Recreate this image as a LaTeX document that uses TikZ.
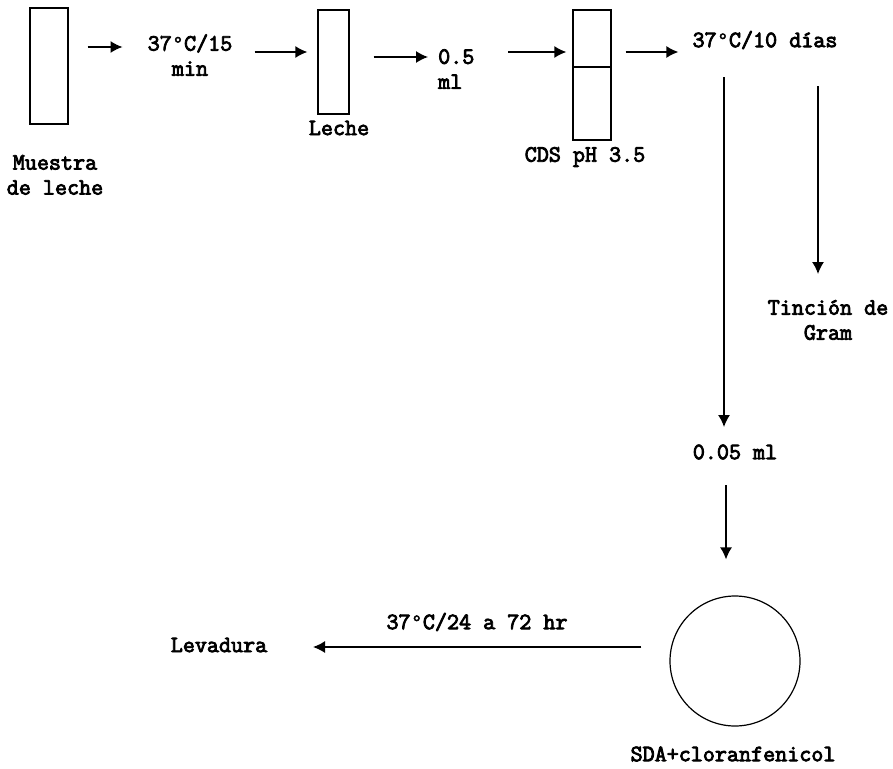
\documentclass[tikz,border=0pt]{standalone}
\usepackage{fontspec}
\setmonofont{Latin Modern Mono}[FakeBold=3.5]
\newfontfamily\degfont{Liberation Mono}[Scale=0.875,FakeBold=2]
\newcommand{\dg}{{\degfont °}}
\usetikzlibrary{arrows.meta,calc}
\begin{document}
\begin{tikzpicture}[x=1pt,y=-1pt,
  every node/.style={font=\fontsize{23.4}{25}\selectfont\ttfamily, inner sep=0pt},
  tube/.style={draw, line width=1.3pt, minimum width=#1, rectangle},
  lbl/.style={align=center},
  arr/.style={line width=1.4pt, -{Latex[length=12pt,width=12pt]}},
  plate/.style={draw, line width=1.2pt, circle, minimum size=130pt}]
\useasboundingbox (0,0) rectangle (893,768);
% tubes
\node[tube=38pt, minimum height=116pt] (t1) at (49,66) {};
\node[tube=31pt, minimum height=104pt] (t2) at (333.5,62) {};
\node[tube=38pt, minimum height=130pt] (t3) at (592,75) {};
\draw[line width=1.3pt] ($(t3.west)+(0,-8)$) -- ($(t3.east)+(0,-8)$);
% labels
\node[lbl] (m1) at (55,175) {Muestra\\de leche};
\node[lbl] (l1) at (190,55) {37\dg C/15\\min};
\node (le) at (339,128) {Leche};
\node[align=left, anchor=west] (ml) at (438,69) {0.5\\ml};
\node (cds) at (585,157) {CDS pH 3.5};
\node (d10) at (765,40) {37\dg C/10 días};
\node[lbl] (gram) at (828,320) {Tinción de\\Gram};
\node (m005) at (735,452) {0.05 ml};
\node[plate] (pl) at (735,661) {};
\node (sda) at (733,754) {SDA+cloranfenicol};
\node (lev) at (219,645) {Levadura};
\node (t24) at (477,622) {37\dg C/24 a 72 hr};
% arrows
\draw[arr] ($(t1.east)+(19,-19)$) -- ($(l1.west)+(-25,-8)$);
\draw[arr] ($(l1.east)+(22,-3)$) -- ($(t2.west)+(-10,-10)$);
\draw[arr] ($(t2.east)+(24,-5)$) -- ($(ml.west)+(-10,-12)$);
\draw[arr] ($(ml.west)+(70,-17)$) -- ($(t3.west)+(-6,-23)$);
\draw[arr] ($(t3.east)+(14,-23)$) -- ($(d10.west)+(-14,12)$);
\draw[arr] ($(d10.center)+(-41,37)$) -- ($(m005.center)+(-11,-25)$);
\draw[arr] ($(d10.center)+(53,46)$) -- ($(gram.center)+(-10,-46)$);
\draw[arr] ($(m005.center)+(-9,33)$) -- ($(pl.north)+(-9,-36)$);
\draw[arr] ($(pl.west)+(-28,-14)$) -- ($(lev.center)+(94,2)$);
\end{tikzpicture}
\end{document}
